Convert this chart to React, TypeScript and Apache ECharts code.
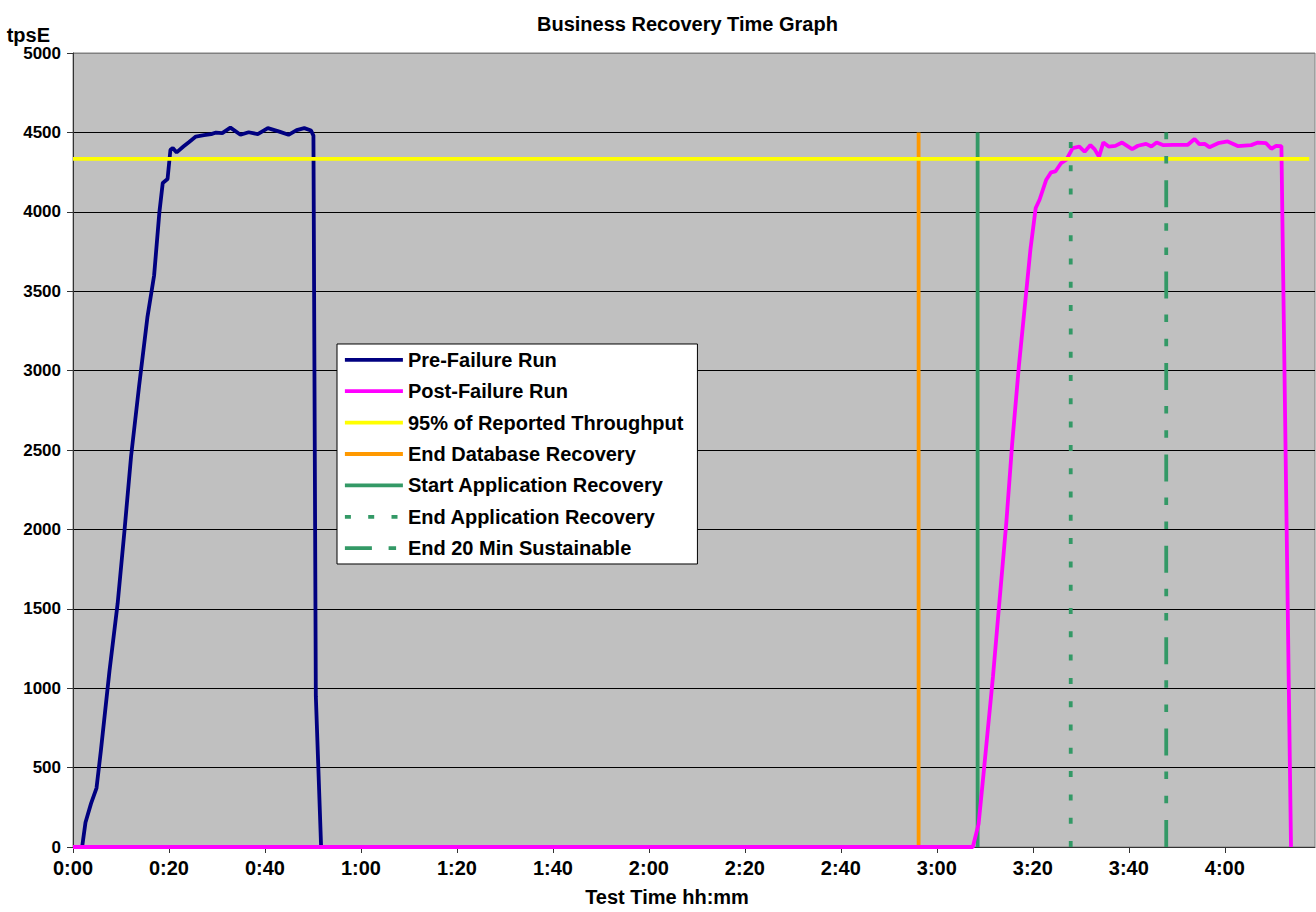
import React, { useEffect, useRef } from "react";
import * as echarts from "echarts";

// ---- data (minutes since test start, tpsE) ----
const preMinutes = [0, 1.9, 2.6, 3.75, 4.9, 5.8, 7.6, 9.3, 10.7, 12.1, 13.8, 15.5, 16.9, 18.0, 18.7, 19.7, 20.3, 20.8, 21.6, 23.0, 24.2, 25.6, 27.3, 28.8, 29.8, 31.1, 32.8, 34.9, 36.6, 38.5, 40.6, 43.0, 44.9, 46.6, 48.2, 49.6, 50.1, 50.6, 51.7];
const preValues = [0, 0, 154, 273, 371, 605, 1108, 1533, 1983, 2460, 2910, 3335, 3599, 3997, 4181, 4206, 4390, 4401, 4374, 4411, 4440, 4474, 4483, 4489, 4499, 4495, 4530, 4485, 4501, 4489, 4527, 4505, 4485, 4514, 4527, 4512, 4480, 950, 0];

const postMinutes = [0, 187.5, 188.7, 189.9, 191.7, 193.1, 194.5, 195.7, 197.1, 198.3, 199.5, 200.6, 201.4, 202.8, 203.8, 204.7, 205.9, 207.0, 208.3, 209.7, 210.8, 212.0, 212.9, 213.8, 214.7, 215.8, 217.2, 218.6, 220.7, 221.9, 223.6, 224.7, 225.8, 227.1, 229.2, 230.6, 232.3, 233.7, 234.7, 235.8, 236.8, 238.6, 240.6, 242.7, 245.5, 246.9, 248.6, 249.7, 250.7, 251.8, 253.8];
const postValues = [0, 0, 145, 512, 1074, 1564, 2051, 2540, 3029, 3395, 3762, 4024, 4076, 4202, 4248, 4254, 4307, 4328, 4401, 4411, 4378, 4420, 4393, 4347, 4437, 4411, 4415, 4436, 4395, 4416, 4428, 4411, 4436, 4420, 4422, 4422, 4422, 4458, 4426, 4428, 4407, 4432, 4443, 4414, 4420, 4436, 4432, 4397, 4415, 4414, 0];

const thresholdMinutes = [0, 257.6];
const thresholdValue = 4333;

const eventNames = ["End Database Recovery", "Start Application Recovery", "End Application Recovery", "End 20 Min Sustainable"];
const eventMinutes = [176.2, 188.5, 207.9, 227.8];
const eventTop = 4500;

const xTickMinutes = [0, 20, 40, 60, 80, 100, 120, 140, 160, 180, 200, 220, 240];
const xMax = 258.8;
const yMax = 5000;
const yStep = 500;

const FONT = "'Liberation Sans', Arial, sans-serif";

const fmtTime = (v: number) => {
  const h = Math.floor(v / 60);
  const m = Math.round(v - h * 60);
  return `${h}:${String(m).padStart(2, "0")}`;
};

const pairs = (xs: number[], ys: number[]) => xs.map((x, i) => [x, ys[i]]);

export default function App() {
  const ref = useRef<HTMLDivElement>(null);
  useEffect(() => {
    if (!ref.current) return;
    const chart = echarts.init(ref.current, undefined, { renderer: "svg" });

    const eventColors = ["#FF9900", "#339966", "#339966", "#339966"];
    const eventTypes: any[] = ["solid", "solid", [6, 17.3], [27, 16.7, 7.5, 16.7, 7.5, 16]];
    const eventZ = [1, 1, 3, 3];

    const splitColors = Array.from({ length: yMax / yStep + 1 }, (_, i) => (i === yMax / yStep ? "#808080" : "#000000"));

    const lw = 3.8;
    const series: any[] = [
      {
        name: "Pre-Failure Run",
        type: "line",
        data: pairs(preMinutes, preValues),
        symbol: "none",
        lineStyle: { color: "#000080", width: lw },
        itemStyle: { color: "#000080" },
        z: 2,
      },
      {
        name: "Post-Failure Run",
        type: "line",
        data: pairs(postMinutes, postValues),
        symbol: "none",
        lineStyle: { color: "#FF00FF", width: lw },
        itemStyle: { color: "#FF00FF" },
        z: 2,
      },
      {
        name: "95% of Reported Throughput",
        type: "line",
        data: thresholdMinutes.map((m) => [m, thresholdValue]),
        symbol: "none",
        lineStyle: { color: "#FFFF00", width: lw },
        itemStyle: { color: "#FFFF00" },
        z: 2,
      },
      ...eventNames.map((name, i) => ({
        name,
        type: "line",
        data: [
          [eventMinutes[i], 0],
          [eventMinutes[i], eventTop],
        ],
        symbol: "none",
        lineStyle: { color: eventColors[i], width: lw, type: eventTypes[i], cap: "butt" },
        itemStyle: { color: eventColors[i] },
        z: eventZ[i],
      })),
    ];

    chart.setOption({
      animation: false,
      backgroundColor: "#ffffff",
      title: {
        text: "Business Recovery Time Graph",
        left: 537,
        top: 14,
        padding: 0,
        textStyle: { fontSize: 20, fontWeight: "bold", color: "#000", fontFamily: FONT },
      },
      legend: {
        orient: "vertical",
        left: 337,
        top: 344,
        data: series.map((s) => s.name),
        itemWidth: 58,
        itemHeight: 20,
        itemGap: 11.4,
        padding: [5.8, 14, 5.8, 6],
        backgroundColor: "#ffffff",
        borderColor: "#000000",
        borderWidth: 1,
        borderRadius: 0,
        lineStyle: { width: lw },
        itemStyle: { opacity: 0, borderWidth: 0 },
        selectedMode: false,
        textStyle: { fontSize: 20, fontWeight: "bold", color: "#000", fontFamily: FONT },
      },
      grid: {
        left: 73,
        top: 53,
        right: 1,
        bottom: 63,
        show: true,
        backgroundColor: "#C0C0C0",
        borderColor: "#808080",
        borderWidth: 1,
        containLabel: false,
      },
      xAxis: {
        type: "value",
        min: 0,
        max: xMax,
        interval: 20,
        name: "Test Time hh:mm",
        nameLocation: "middle",
        nameGap: 40,
        nameTextStyle: { fontSize: 20, fontWeight: "bold", color: "#000", fontFamily: FONT, padding: [0, 54, 0, 0] },
        axisLine: { show: true, onZero: false, lineStyle: { color: "#333", width: 1 } },
        axisTick: { show: true, length: 6, inside: false, customValues: xTickMinutes, lineStyle: { color: "#333" } },
        axisLabel: {
          customValues: xTickMinutes,
          formatter: (v: number) => fmtTime(v),
          margin: 11,
          fontSize: 20,
          fontWeight: "bold",
          color: "#000",
          fontFamily: FONT,
        },
        splitLine: { show: false },
      },
      yAxis: {
        type: "value",
        min: 0,
        max: yMax,
        interval: yStep,
        name: "tpsE",
        nameLocation: "end",
        nameGap: 0,
        nameTextStyle: { fontSize: 20, fontWeight: "bold", color: "#000", fontFamily: FONT, align: "right", padding: [0, 23, 0, 0] },
        axisLine: { show: true, lineStyle: { color: "#333", width: 1 } },
        axisTick: { show: true, length: 6, inside: false, lineStyle: { color: "#333" } },
        axisLabel: {
          margin: 12,
          fontSize: 17,
          fontWeight: "bold",
          color: "#000",
          fontFamily: FONT,
          formatter: (v: number) => String(v),
        },
        splitLine: { show: true, lineStyle: { color: splitColors, width: 1 } },
      },
      series,
    });

    return () => chart.dispose();
  }, []);

  return (
    <div
      ref={ref}
      style={{ position: "fixed", left: 0, top: 0, width: 1316, height: 912, background: "#fff" }}
    />
  );
}
